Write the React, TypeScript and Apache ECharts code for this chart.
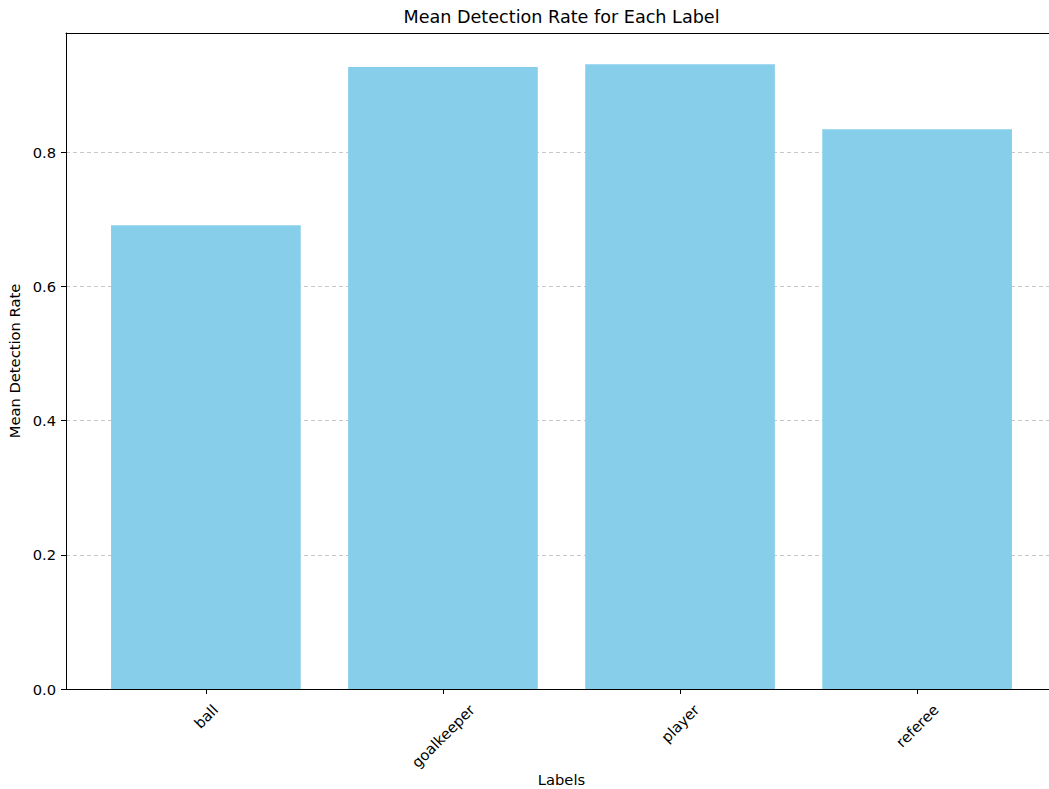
import React, { useEffect, useRef } from "react";
import * as echarts from "echarts";

const categories = ["ball", "goalkeeper", "player", "referee"];
const meanRates = [0.691, 0.927, 0.931, 0.834];
const yTicks = [0, 0.2, 0.4, 0.6, 0.8];

const FONT = "DejaVu Sans";
const TICK_FS = 14.7;
const TITLE_FS = 17.6;

function measure(text: string): number {
  const c = document.createElement("canvas").getContext("2d");
  if (!c) return text.length * 8.5;
  c.font = `${TICK_FS}px "${FONT}"`;
  return c.measureText(text).width;
}

export default function App() {
  const ref = useRef<HTMLDivElement>(null);
  useEffect(() => {
    if (!ref.current) return;
    const chart = echarts.init(ref.current, null, { renderer: "svg" });

    const G_LEFT = 66;
    const G_TOP = 33;
    const G_W = 991;
    const G_H = 656;
    const n = categories.length;
    // matplotlib-like x extent: bars of width 0.8 plus 5% margins
    const span = n - 1 + 0.8;
    const xMin = -0.4 - 0.05 * span;
    const xMax = n - 1 + 0.4 + 0.05 * span;
    const unit = G_W / (xMax - xMin);
    const catLeft = G_LEFT + (-0.5 - xMin) * unit;
    const catWidth = n * unit;
    const yMax = Math.max(...meanRates) * 1.05;

    const rich: Record<string, any> = {};
    categories.forEach((c, i) => {
      const L = measure(c);
      rich["c" + i] = {
        fontFamily: FONT,
        fontSize: TICK_FS,
        color: "#000",
        padding: [L / 2, L / 2, 0, 0],
      };
    });
    const catIndex: Record<string, number> = {};
    categories.forEach((c, i) => (catIndex[c] = i));

    const axisText = { fontFamily: FONT, fontSize: TICK_FS, color: "#000" };
    const spine = { show: true, onZero: false, lineStyle: { color: "#000", width: 1 } };

    chart.setOption({
      animation: false,
      title: {
        text: "Mean Detection Rate for Each Label",
        left: G_LEFT + G_W / 2,
        textAlign: "center",
        top: 8,
        padding: 0,
        textStyle: { fontFamily: FONT, fontSize: TITLE_FS, fontWeight: "normal", color: "#000" },
      },
      grid: [
        { left: G_LEFT, top: G_TOP, width: G_W, height: G_H, containLabel: false, outerBoundsMode: "none" },
        { left: catLeft, top: G_TOP, width: catWidth, height: G_H, containLabel: false, outerBoundsMode: "none" },
      ],
      xAxis: [
        {
          type: "value",
          gridIndex: 0,
          min: xMin,
          max: xMax,
          name: "Labels",
          nameLocation: "middle",
          nameGap: 83,
          nameTextStyle: axisText,
          axisLine: spine,
          axisTick: { show: false },
          axisLabel: { show: false },
          splitLine: { show: false },
        },
        {
          type: "value",
          gridIndex: 0,
          position: "top",
          min: xMin,
          max: xMax,
          axisLine: spine,
          axisTick: { show: false },
          axisLabel: { show: false },
          splitLine: { show: false },
        },
        {
          type: "category",
          gridIndex: 1,
          data: categories,
          boundaryGap: true,
          axisLine: spine,
          axisTick: { show: true, alignWithLabel: true, length: 5, lineStyle: { color: "#000" } },
          axisLabel: {
            interval: 0,
            rotate: 45,
            align: "center",
            verticalAlign: "middle",
            margin: 18,
            formatter: (v: string) => `{c${catIndex[v]}|${v}}`,
            rich,
          },
          splitLine: { show: false },
        },
      ],
      yAxis: [
        {
          type: "value",
          gridIndex: 0,
          min: 0,
          max: yMax,
          interval: 0.2,
          name: "Mean Detection Rate",
          nameLocation: "middle",
          nameGap: 41,
          nameTextStyle: axisText,
          axisLine: spine,
          axisTick: { show: true, length: 5, customValues: yTicks, lineStyle: { color: "#000" } },
          axisLabel: {
            customValues: yTicks,
            margin: 10,
            ...axisText,
            formatter: (v: number) => v.toFixed(1),
          },
          splitLine: { show: true, lineStyle: { color: "#c8c8c8", type: [4, 3], width: 1 } },
        },
        {
          type: "value",
          gridIndex: 1,
          min: 0,
          max: yMax,
          show: false,
          splitLine: { show: false },
        },
      ],
      series: [
        {
          type: "bar",
          xAxisIndex: 2,
          yAxisIndex: 1,
          barWidth: "80%",
          itemStyle: { color: "#87CEEB" },
          data: meanRates,
        },
      ],
    });
    return () => chart.dispose();
  }, []);
  return (
    <div
      ref={ref}
      style={{ position: "absolute", left: 0, top: 0, width: 1049, height: 789 }}
    />
  );
}
